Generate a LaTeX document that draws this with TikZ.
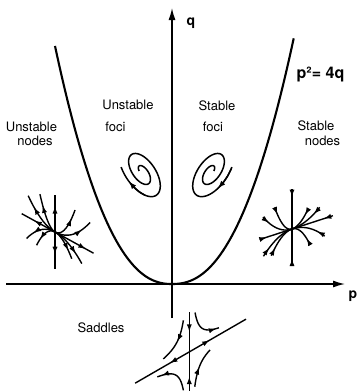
\documentclass[tikz,border=0pt]{standalone}
\usepackage{fontspec}
\setmainfont{TeX Gyre Heros}
\usetikzlibrary{arrows.meta,decorations.markings}
\begin{document}
\begin{tikzpicture}[x=1pt,y=-1pt,
  axis/.style={line width=1.4pt},
  curve/.style={line width=2.1pt},
  glyph/.style={line width=1.4pt},
  spir/.style={line width=1.5pt},
  tipa/.style={-{Latex[length=8pt,width=5.5pt]}},
  outarr/.style={postaction={decorate},decoration={markings,mark=at position #1 with {\arrow{Latex[length=7.5pt,width=5.2pt]}}}},
  inarr/.style={postaction={decorate},decoration={markings,mark=at position #1 with {\arrowreversed{Latex[length=7.5pt,width=5.2pt]}}}},
  lbl/.style={font=\fontsize{13}{15}\selectfont, inner sep=0pt},
  big/.style={font=\fontsize{16}{18}\selectfont\bfseries, inner sep=0pt},
  axlbl/.style={font=\fontsize{14}{16}\selectfont\bfseries, inner sep=0pt}]

\useasboundingbox (0,0) rectangle (357,391);

% parabola p^2 = 4q
\draw[curve] plot[domain=-117:121.7, samples=121, smooth]
  ({172+\x}, {284-((\x<0)?165.9:156.4)*pow(abs(\x)/100,2.3)});

% axes
\coordinate (qb) at (172,318);
\coordinate (qt) at (172,8);
\coordinate (pl) at (6,284);
\coordinate (pr) at (345,284);
\draw[axis,-{Latex[length=12pt,width=7pt]}] (qb) -- (qt);
\draw[axis,-{Latex[length=12pt,width=7pt]}] (pl) -- (pr);

% labels
\node[axlbl] (ql) at (191,23) {q};
\node[axlbl] (plb) at (353,296) {p};
\node[big] (eq) at (320.5,74.5) {p²= 4q};
\node[lbl] (uf1) at (128,104.5) {Unstable};
\node[lbl] (uf2) at (115.5,127) {foci};
\node[lbl] (un1) at (31.5,127) {Unstable};
\node[lbl] (un2) at (35,141) {nodes};
\node[lbl] (sf1) at (217,106) {Stable};
\node[lbl] (sf2) at (213,127) {foci};
\node[lbl] (sn1) at (316,126) {Stable};
\node[lbl] (sn2) at (322.5,141) {nodes};
\node[lbl] (sd) at (101,328) {Saddles};

% unstable focus
\coordinate (F1) at (142,172);
\begin{scope}[shift={(F1)}, x=1pt, y=1pt, rotate=-56]
\draw[spir] plot[domain=0.14:1.08, samples=100, smooth]
  ({29.5*\x*cos(240+760*(1.08-\x))}, {15.5*\x*sin(240+760*(1.08-\x))});
\draw[spir, tipa] plot[domain=0:1, samples=4]
  ({29.5*(0.98+0.06*\x)*cos(240+760*(0.1-0.06*\x))}, {15.5*(0.98+0.06*\x)*sin(240+760*(0.1-0.06*\x))});
\end{scope}

% stable focus
\coordinate (F2) at (211,172);
\begin{scope}[shift={(F2)}, x=1pt, y=1pt, xscale=-1, rotate=-56]
\draw[spir] plot[domain=0.14:1.08, samples=100, smooth]
  ({29.5*\x*cos(240+760*(1.08-\x))}, {15.5*\x*sin(240+760*(1.08-\x))});
\draw[spir, tipa] plot[domain=0:1, samples=4]
  ({29.5*(1.075-0.06*\x)*cos(240+760*(0.005+0.06*\x))}, {15.5*(1.075-0.06*\x)*sin(240+760*(0.005+0.06*\x))});
\end{scope}

% unstable node
\coordinate (NU) at (55,232);
\begin{scope}[shift={(NU)}, x={(0.876pt,-0.482pt)}, y={(0pt,1pt)}]
\draw[glyph, outarr=0.62] (0,0) -- (-38,0);
\draw[glyph, outarr=0.8] (0,0) -- (44,0);
\draw[glyph, outarr=0.7] (0,0) -- (0,37);
\draw[glyph, outarr=0.6] (0,0) -- (0,-37);
\foreach \ca/\ua in {0.023/-30.6, 0.1/-17.2, 0.063/22.9, 0.018/40.1, -0.021/-32.5, -0.053/-21, -0.048/19.1, -0.018/30.6}
  \draw[glyph, outarr=0.72] plot[domain=0:1, samples=12] ({(\ua)*\x}, {(\ca)*(\ua)*(\ua)*\x*\x});
\end{scope}

% stable node
\coordinate (NS) at (292,229);
\begin{scope}[shift={(NS)}, x={(-0.951pt,-0.309pt)}, y={(0pt,1pt)}]
\draw[glyph, inarr=0.78] (0,0) -- (-43,0);
\draw[glyph, inarr=0.78] (0,0) -- (34,0);
\draw[glyph, inarr=0.8] (0,0) -- (0,40);
\draw[glyph, inarr=0.8] (0,0) -- (0,-37);
\foreach \ca/\ua in {0.082/18.2, 0.023/30.5, 0.052/-16.8, 0.015/-29.1, -0.06/-18.6, -0.015/-34.4, -0.042/21.8, -0.02/30}
  \draw[glyph, inarr=0.75] plot[domain=0:1, samples=12] ({(\ua)*\x}, {(\ca)*(\ua)*(\ua)*\x*\x});
\end{scope}

% saddle
\coordinate (S) at (189.3,351.9);
\begin{scope}[shift={(S)}, x={(0.866pt,0.5pt)}, y={(0pt,1pt)}]
\draw[glyph, outarr=0.36] (0,0) -- (65.5,0);
\draw[glyph, outarr=0.36] (0,0) -- (-62.5,0);
\draw[glyph, inarr=0.5] (0,0) -- (0,40.2);
\draw[glyph, inarr=0.63] (0,0) -- (0,-39.1);
\draw[glyph, outarr=0.92] plot[domain=0:1, samples=25] ({240/(36-29*\x)}, {36-29*\x});
\draw[glyph, outarr=0.5] plot[domain=0:1, samples=25] ({-240/(35-27*\x)}, {35-27*\x});
\draw[glyph, outarr=0.88] plot[domain=0:1, samples=25] ({-240/(35-28.5*\x)}, {-(35-28.5*\x)});
\draw[glyph, outarr=0.5] plot[domain=0:1, samples=25] ({240/(38-28*\x)}, {-(38-28*\x)});
\end{scope}
\end{tikzpicture}
\end{document}
